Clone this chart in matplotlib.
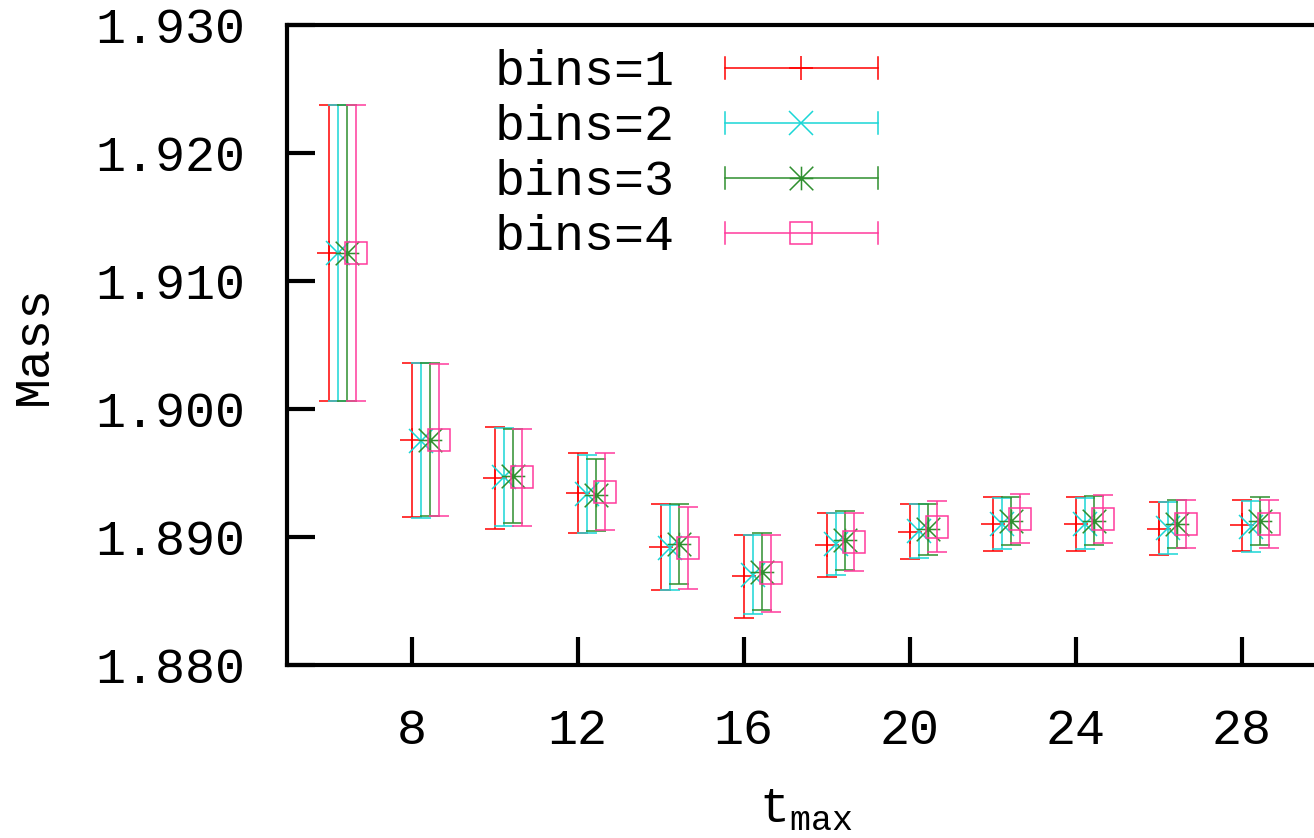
import matplotlib
matplotlib.use("Agg")
import matplotlib.pyplot as plt
from matplotlib.lines import Line2D
from matplotlib.legend_handler import HandlerBase
from matplotlib.path import Path

# ------------------------------
# data
# ------------------------------
t_max = [6, 8, 10, 12, 14, 16, 18, 20, 22, 24, 26, 28]

mass_b1 = [1.91221, 1.89755, 1.89463, 1.89342, 1.88924, 1.88694, 1.88939, 1.89041, 1.89103, 1.89103, 1.89065, 1.89093]
err_b1 = [0.01157, 0.00601, 0.00398, 0.00314, 0.00335, 0.00324, 0.00249, 0.00216, 0.00210, 0.00210, 0.00206, 0.00199]
mass_b2 = [1.91221, 1.89752, 1.89471, 1.89337, 1.88918, 1.88707, 1.88944, 1.89048, 1.89104, 1.89104, 1.89070, 1.89082]
err_b2 = [0.01157, 0.00607, 0.00384, 0.00306, 0.00330, 0.00311, 0.00243, 0.00210, 0.00200, 0.00200, 0.00201, 0.00199]
mass_b3 = [1.91221, 1.89760, 1.89478, 1.89330, 1.88945, 1.88729, 1.88973, 1.89059, 1.89125, 1.89127, 1.89104, 1.89125]
err_b3 = [0.01157, 0.00599, 0.00368, 0.00279, 0.00313, 0.00302, 0.00228, 0.00199, 0.00188, 0.00190, 0.00188, 0.00188]
mass_b4 = [1.91221, 1.89758, 1.89467, 1.89354, 1.88916, 1.88717, 1.88961, 1.89082, 1.89143, 1.89138, 1.89104, 1.89104]
err_b4 = [0.01157, 0.00591, 0.00379, 0.00302, 0.00319, 0.00301, 0.00227, 0.00199, 0.00193, 0.00188, 0.00188, 0.00188]

labels = ["bins=1", "bins=2", "bins=3", "bins=4"]
x_ticks = [8, 12, 16, 20, 24, 28]
y_ticks = [1.880, 1.890, 1.900, 1.910, 1.920, 1.930]

# ------------------------------
# style
# ------------------------------
plt.rcParams["font.family"] = ["Liberation Mono", "DejaVu Sans Mono"]
plt.rcParams["mathtext.fontset"] = "custom"
plt.rcParams["mathtext.tt"] = "Liberation Mono"
plt.rcParams["mathtext.rm"] = "Liberation Mono"
FS = 36

star = Path([(-1, 0), (1, 0), (0, -1), (0, 1), (-1, -1), (1, 1), (-1, 1), (1, -1)],
            [Path.MOVETO, Path.LINETO] * 4)
colors = ["#ff0000", "#1ad6d6", "#2f8f2f", "#ff3a9c"]
markers = ["+", "x", star, "s"]
shift = [0.0, 0.22, 0.44, 0.66]


class CapLineHandler(HandlerBase):
    # gnuplot-like key sample: line with caps at both ends and marker in the middle
    def create_artists(self, legend, orig_handle, xdescent, ydescent,
                       width, height, fontsize, trans):
        y = height / 2 - ydescent
        x0, x1 = -xdescent, width - xdescent
        c = orig_handle.get_color()
        lw = orig_handle.get_linewidth()
        cap = 8
        arts = [Line2D([x0, x1], [y, y], color=c, lw=lw),
                Line2D([x0, x0], [y - cap, y + cap], color=c, lw=lw),
                Line2D([x1, x1], [y - cap, y + cap], color=c, lw=lw),
                Line2D([(x0 + x1) / 2], [y], marker=orig_handle.get_marker(),
                       markersize=orig_handle.get_markersize(), mec=c, mfc="none",
                       mew=orig_handle.get_markeredgewidth(), ls="none")]
        for a in arts:
            a.set_transform(trans)
        return arts


fig = plt.figure(figsize=(13.14, 8.38), dpi=100)
ax = fig.add_axes([0.2184, 0.2064, 0.79, 0.7637])

series = [(mass_b1, err_b1), (mass_b2, err_b2), (mass_b3, err_b3), (mass_b4, err_b4)]
handles = []
for i, (m, e) in enumerate(series):
    xs = [t + shift[i] for t in t_max]
    ms = 16 if markers[i] == "s" else 17
    ax.errorbar(xs, m, yerr=e, fmt="none", ecolor=colors[i], elinewidth=1.1,
                capsize=7.5, capthick=1.1)
    ax.plot(xs, m, ls="none", marker=markers[i], markersize=ms, mec=colors[i],
            mfc="none", mew=1.1)
    handles.append(Line2D([], [], color=colors[i], lw=1.1, marker=markers[i],
                          markersize=ms, mew=1.1))

ax.set_xlim(5, 30)
ax.set_ylim(1.880, 1.930)
ax.set_xticks(x_ticks)
ax.set_yticks(y_ticks)
ax.set_yticklabels([f"{v:.3f}" for v in y_ticks])
ax.tick_params(direction="in", length=20, width=3, labelsize=FS, top=False, right=False)
ax.tick_params(axis="y", pad=30)
ax.tick_params(axis="x", pad=31)
for s in ax.spines.values():
    s.set_linewidth(3)

ax.set_ylabel("Mass", fontsize=FS, labelpad=28)
ax.set_xlabel(r"$\mathtt{t}_{\mathtt{max}}$", fontsize=FS, labelpad=24)

leg = ax.legend(handles, labels, handler_map={Line2D: CapLineHandler()},
                loc="upper left", bbox_to_anchor=(0.2, 0.962), frameon=False,
                fontsize=FS, markerfirst=False, handlelength=3.06,
                handletextpad=1.0, labelspacing=0.18, borderpad=0,
                borderaxespad=0)

fig.savefig("out.png", dpi=100)
